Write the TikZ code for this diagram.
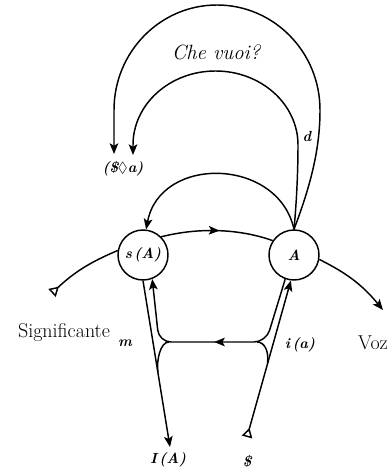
\documentclass[tikz,border=0pt]{standalone}
\usepackage{amssymb}
\usetikzlibrary{arrows.meta,decorations.markings}

\begin{document}
\begin{tikzpicture}[
    x=0.75pt, y=0.75pt,
    knot/.style={circle, draw, line width=1.1pt, minimum size=37.5pt,
                 inner sep=0pt, font=\fontsize{11}{13}\selectfont\bfseries\itshape},
    wire/.style={draw, line width=1.1pt},
    line/.style={wire, -{Stealth[length=8pt,width=6.5pt,inset=1.8pt]}},
    tail/.style={wire, {Triangle[open,reversed,length=7pt,width=8pt,line width=1.1pt]}-},
    tailline/.style={wire, {Triangle[open,reversed,length=7pt,width=8pt,line width=1.1pt]}-{Stealth[length=8pt,width=6.5pt,inset=1.8pt]}},
    mid/.style={postaction={decorate}, decoration={markings,
                mark=at position #1 with {\arrow{Stealth[length=8pt,width=6.5pt,inset=1.8pt]}}}},
    lbl/.style={font=\fontsize{11}{13}\selectfont\bfseries\itshape},
    big/.style={font=\fontsize{15}{18}\selectfont}
]
    \useasboundingbox (0,0) rectangle (392,467);

    \node [knot] (sA) at (143,212) {s\,(A)};
    \node [knot] (A)  at (294,212) {A};

    \coordinate (sig)  at (52,174);
    \coordinate (voz)  at (383,157);
    \coordinate (bars) at (247,30);
    \coordinate (IA)   at (170,20);
    \coordinate (jl)   at (159,125);
    \coordinate (jr)   at (266,125);
    \coordinate (fo)   at (114,313);
    \coordinate (fi)   at (133,312);

    \path [line] (A.north) .. controls (314,290) and (320,325) .. (320,357)
        arc[start angle=0, end angle=180, x radius=103, y radius=105] -- (fo);
    \path [line] (A.north) .. controls (297,270) and (298,300) .. (298,322)
        arc[start angle=0, end angle=180, x radius=82.5, y radius=74] -- (fi);
    \path [line] (A.north) .. controls (278,310) and (160,312) .. (sA.83);
    \path [wire, mid=0.52] (sA.45) .. controls (200,240) and (240,238) .. (A.146);

    \path [tail] (sig) to[bend left=10] (sA.170);
    \path [line] (A.-10) to[bend left=12] (voz);

    \path [line] (sA.south) -- (IA);
    \path [line, mid=0.5, rounded corners=9pt] (A.-110) -- (jr) -- (jl) -- (sA.-69);
    \path [wire] (169,125) .. controls (160,125) and (156.4,106) .. (157.9,95);
    \path [wire] (257,125) .. controls (265,125) and (269,115) .. (267.5,104);
    \path [tailline] (bars) -- (A.-97);

    \node (chevuoi) at (216,415) {\fontsize{15.5}{18}\selectfont\itshape Che vuoi?};
    \node [lbl] (d)    at (307,331) {d};
    \node [lbl] (fant) at (123,298) {(\$$\lozenge$a)};
    \node [big] (signif) at (64,134) {Significante};
    \node [big] (voztxt) at (373,124) {Voz};
    \node [lbl] (m)    at (125,124) {m};
    \node [lbl] (ia)   at (300,122) {i\,(a)};
    \node [lbl] (IAtxt) at (168,7) {I\,(A)};
    \node [lbl] (bartxt) at (247,6) {\$};
\end{tikzpicture}
\end{document}
